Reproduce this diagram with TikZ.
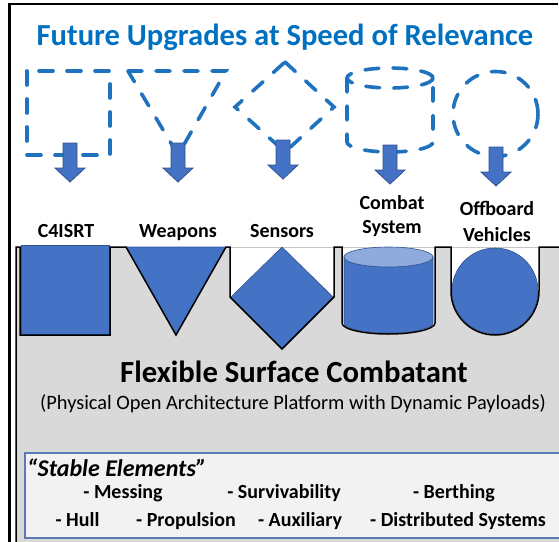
\documentclass[tikz,border=0pt]{standalone}
\usepackage{fontspec}
\setmainfont{Carlito}

\definecolor{titleblue}{HTML}{0070C0}
\definecolor{dashblue}{HTML}{1F72BE}
\definecolor{shapeblue}{HTML}{4472C4}
\definecolor{shapeedge}{HTML}{2F528F}
\definecolor{toplight}{HTML}{8FAADC}
\definecolor{panelgrey}{HTML}{D9D9D9}
\definecolor{boxfill}{HTML}{F2F2F2}
\definecolor{boxedge}{HTML}{5A7AB5}

\begin{document}
\begin{tikzpicture}[x=1pt,y=-1pt,
  dashshape/.style={draw=dashblue, line width=3.6pt, dash pattern=on 14pt off 14pt, line cap=round},
  blockarrow/.style={fill=shapeblue, draw=shapeedge, line width=0.8pt},
  solidshape/.style={fill=shapeblue, draw=shapeedge, line width=0.6pt},
  lbl/.style={font=\fontsize{20}{24}\selectfont\bfseries, anchor=base, inner sep=0pt},
  elem/.style={font=\fontsize{20}{24}\selectfont\bfseries, anchor=base, inner sep=0pt}]

\useasboundingbox (0,0) rectangle (559,541);

% outer frame (left and top edges)
\draw[line width=2.2pt] (9.5,545) -- (9.5,4.3) -- (558,4.3);

% title
\node[font=\fontsize{30.6}{36}\selectfont\bfseries, text=titleblue, anchor=base, inner sep=0pt]
  (title) at (285,45) {Future Upgrades at Speed of Relevance};

% dashed upgrade outlines
\draw[dashshape] (27,71) rectangle (110,155);
\draw[dashshape] (128,71) -- (226,71) -- (178,155) -- cycle;
\draw[dashshape] (285,62) -- (334,107) -- (285,152) -- (235,107) -- cycle;
\draw[dashshape] (390,78) ellipse[x radius=43, y radius=10];
\draw[dashshape] (347,78) -- (347,142) arc[start angle=180, end angle=0, x radius=43, y radius=10] -- (433,78);
\draw[dashshape] (495.5,114) circle[radius=42.5];

% block arrows pointing down
\foreach \ax/\at in {70/143,178/143,283/140,390/145,496/147} {
  \draw[blockarrow] (\ax-7,\at) -- (\ax+7,\at) -- (\ax+7,\at+25) -- (\ax+15,\at+25)
    -- (\ax,\at+39) -- (\ax-15,\at+25) -- (\ax-7,\at+25) -- cycle;
}

% payload labels
\node[lbl] (c4) at (66,237) {C4ISRT};
\node[lbl] (weap) at (178,237) {Weapons};
\node[lbl] (sens) at (282,237) {Sensors};
\node[lbl] (comb1) at (392,209) {Combat};
\node[lbl] (comb2) at (392,233) {System};
\node[lbl] (off1) at (497,215) {Offboard};
\node[lbl] (off2) at (497,241) {Vehicles};

% grey platform with payload slots
\draw[gray!45, line width=0.7pt] (16,247) -- (562,247);
\fill[panelgrey] (16,545) -- (16,247) -- (20,247) -- (20,335) -- (110,335) -- (110,247)
  -- (126,247) -- (176,335) -- (226,247) -- (230,247) -- (230,297) -- (282,349) -- (334,297)
  -- (334,247) -- (342,247) -- (342,323) arc[start angle=180, end angle=0, x radius=46.5, y radius=11]
  -- (435,247) -- (451,247) -- (451,291) arc[start angle=180, end angle=0, radius=44]
  -- (539,247) -- (562,247) -- (562,545) -- cycle;

% payload modules
\filldraw[solidshape] (21,245) rectangle (109,334);
\filldraw[solidshape] (126,247) -- (226,247) -- (176,335) -- cycle;
\filldraw[solidshape] (282,247) -- (333,297) -- (282,348) -- (231,297) -- cycle;
\filldraw[solidshape] (344,257) -- (344,323) arc[start angle=180, end angle=0, x radius=44.5, y radius=10] -- (433,257) -- cycle;
\filldraw[fill=toplight, draw=shapeedge, line width=0.6pt] (388.5,257) ellipse[x radius=44.5, y radius=10];
\filldraw[solidshape] (495,291) circle[radius=43];

% slot outline
\draw[black, line width=1.5pt] (16,545) -- (16,247) -- (20,247) -- (20,335) -- (110,335) -- (110,247)
  -- (126,247) -- (176,335) -- (226,247) -- (230,247) -- (230,297) -- (282,349) -- (334,297)
  -- (334,247) -- (342,247) -- (342,323) arc[start angle=180, end angle=0, x radius=46.5, y radius=11]
  -- (435,247) -- (451,247) -- (451,291) arc[start angle=180, end angle=0, radius=44]
  -- (539,247) -- (562,247);

% platform name
\node[font=\fontsize{30.7}{36}\selectfont\bfseries, anchor=base, inner sep=0pt]
  (fsc) at (294,382) {Flexible Surface Combatant};
\node[font=\fontsize{20.4}{24}\selectfont, anchor=base, inner sep=0pt]
  (fscsub) at (293,409.5) {(Physical Open Architecture Platform with Dynamic Payloads)};

% stable elements box
\filldraw[fill=boxfill, draw=boxedge, line width=1.5pt] (25,453) rectangle (566,538);
\node[font=\fontsize{24}{28}\selectfont\bfseries\itshape, anchor=base west, inner sep=0pt]
  (stable) at (27,476) {“Stable Elements”};
\node[elem] (messing) at (123,498) {- Messing};
\node[elem] (surv) at (284,498) {- Survivability};
\node[elem] (berth) at (454,498) {- Berthing};
\node[elem] (hull) at (77.5,526) {- Hull};
\node[elem] (prop) at (186,526) {- Propulsion};
\node[elem] (aux) at (300,526) {- Auxiliary};
\node[elem] (dist) at (458,526) {- Distributed Systems};

\end{tikzpicture}
\end{document}
